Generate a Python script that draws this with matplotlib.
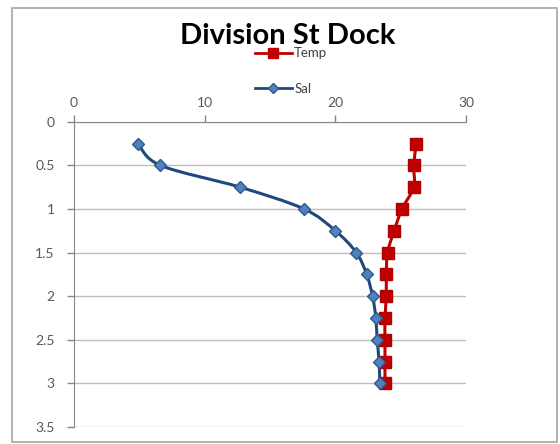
import numpy as np
import matplotlib
matplotlib.use("Agg")
import matplotlib.pyplot as plt
from matplotlib.path import Path
from matplotlib.patches import PathPatch, Rectangle
from matplotlib.lines import Line2D

depth = [0.25, 0.5, 0.75, 1.0, 1.25, 1.5, 1.75, 2.0, 2.25, 2.5, 2.75, 3.0]
temp = [26.2, 26.0, 26.0, 25.1, 24.5, 24.0, 23.9, 23.9, 23.8, 23.8, 23.8, 23.8]
sal = [4.9, 6.6, 12.7, 17.6, 20.0, 21.6, 22.4, 22.85, 23.1, 23.2, 23.35, 23.4]
x_ticks = [0, 10, 20, 30]
y_ticks = [0, 0.5, 1, 1.5, 2, 2.5, 3, 3.5]
title = "Division St Dock"

plt.rcParams['font.family'] = ['Lato', 'DejaVu Sans']

fig = plt.figure(figsize=(5.6, 4.44), dpi=100)
ax = fig.add_axes([74/560, 1-427/444, (466-74)/560, (427-121.7)/444])

# chart border
fig.patches.append(Rectangle((12/560, 2/444), (557-12)/560, (439-5)/444,
                             transform=fig.transFigure, fill=False,
                             edgecolor='#A6A6A6', linewidth=1.2))


def smooth_path(xs, ys, t=1/6):
    xs = np.asarray(xs, float); ys = np.asarray(ys, float)
    pts = np.column_stack([xs, ys])
    verts = [pts[0]]
    codes = [Path.MOVETO]
    n = len(pts)
    for i in range(n - 1):
        p0 = pts[i - 1] if i > 0 else pts[i]
        p1 = pts[i]
        p2 = pts[i + 1]
        p3 = pts[i + 2] if i + 2 < n else pts[i + 1]
        c1 = p1 + (p2 - p0) * t
        c2 = p2 - (p3 - p1) * t
        verts += [c1, c2, p2]
        codes += [Path.CURVE4] * 3
    return Path(verts, codes)


temp_col = '#C00000'
sal_line = '#1F497D'
sal_face = '#4F81BD'
sal_edge = '#2C5A8C'

ax.add_patch(PathPatch(smooth_path(sal, depth), fill=False, edgecolor=sal_line, lw=2.2, zorder=3))
ax.add_patch(PathPatch(smooth_path(temp, depth), fill=False, edgecolor=temp_col, lw=2.2, zorder=3))
ax.plot(temp, depth, linestyle='none', marker='s', ms=8.5, mfc=temp_col, mec='#B00000', zorder=4)
ax.plot(sal, depth, linestyle='none', marker='D', ms=6.5, mfc=sal_face, mec=sal_edge, mew=1, zorder=5)

ax.set_xlim(0, 30)
ax.set_ylim(3.5, 0)
ax.set_xticks(x_ticks)
ax.set_yticks(y_ticks)
ax.set_yticklabels([f"{v:g}" for v in y_ticks])
ax.xaxis.tick_top()
ax.tick_params(axis='both', colors='#868686', labelcolor='#595959', labelsize=10, length=5, width=1)
ax.tick_params(axis='x', pad=4)
ax.tick_params(axis='y', pad=9)
for lab in ax.get_yticklabels():
    lab.set_horizontalalignment('right')
ax.grid(axis='y', color='#BFBFBF', lw=1)
ax.grid(axis='x', visible=False)
for s in ['right', 'bottom']:
    ax.spines[s].set_visible(False)
ax.spines['left'].set_color('#868686')
ax.spines['top'].set_color('#868686')
ax.set_axisbelow(True)

fig.text(288/560, 1-36/444, title, ha='center', va='center', fontsize=21,
         fontweight='bold', color='#000000')

handles = [Line2D([], [], color=temp_col, lw=2, marker='s', ms=7, mfc=temp_col, mec=temp_col),
           Line2D([], [], color=sal_line, lw=2, marker='D', ms=5.5, mfc=sal_face, mec=sal_edge)]
fig.legend(handles, ['Temp', 'Sal'], loc='center', bbox_to_anchor=(291/560, 1-71/444),
           frameon=False, fontsize=9.5, handlelength=2.8, handletextpad=0.2,
           labelspacing=1.75, labelcolor='#404040')

fig.savefig('out.png', dpi=100)
